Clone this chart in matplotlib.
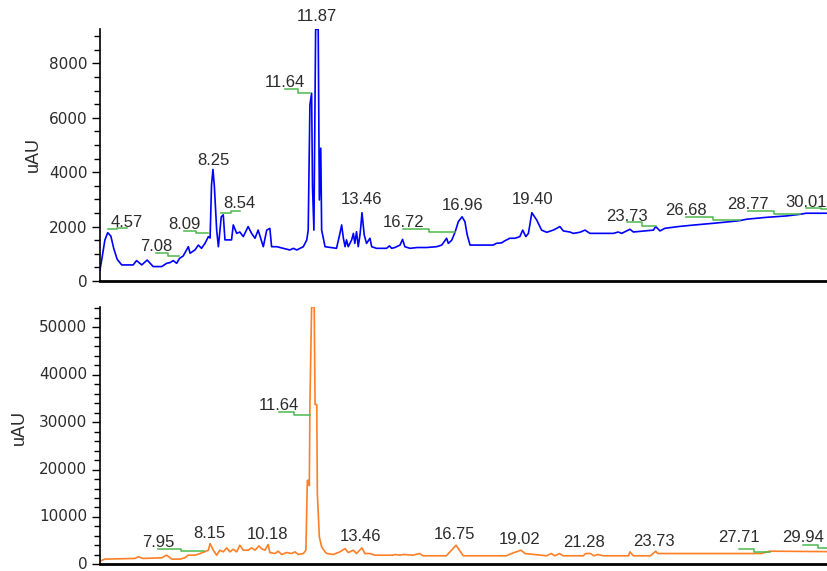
import numpy as np
import matplotlib
matplotlib.use("Agg")
import matplotlib.pyplot as plt
from matplotlib.ticker import MultipleLocator, NullLocator

# ---- detector trace 1 (blue) : retention time [min], signal [uAU]
t_blue = [4.30, 4.38, 4.47, 4.57, 4.68, 4.78, 4.90, 5.06, 5.46, 5.58, 5.76, 5.95,
          6.16, 6.46, 6.63, 6.75, 6.86, 6.98, 7.08, 7.21, 7.39, 7.45, 7.62, 7.74,
          7.85, 7.97, 8.09, 8.15, 8.20, 8.25, 8.30, 8.38, 8.44, 8.54, 8.61, 8.67,
          8.90, 8.96, 9.08, 9.19, 9.31, 9.48, 9.60, 9.72, 9.83, 10.01, 10.13, 10.24,
          10.30, 10.48, 10.71, 10.94, 11.06, 11.18, 11.41, 11.53, 11.58, 11.64, 11.70, 11.73,
          11.78, 11.84, 11.93, 11.97, 12.02, 12.05, 12.17, 12.57, 12.69, 12.75, 12.81, 12.87,
          12.92, 12.98, 13.10, 13.16, 13.21, 13.27, 13.33, 13.39, 13.42, 13.46, 13.54, 13.62,
          13.74, 13.80, 13.97, 14.32, 14.42, 14.50, 14.61, 14.79, 14.88, 14.96, 15.14, 15.39,
          15.72, 16.07, 16.25, 16.42, 16.48, 16.60, 16.72, 16.83, 16.96, 17.06, 17.14, 17.24,
          17.47, 18.05, 18.16, 18.34, 18.46, 18.63, 18.81, 18.98, 19.08, 19.19, 19.28, 19.40,
          19.57, 19.74, 19.92, 20.15, 20.27, 20.38, 20.50, 20.73, 20.85, 21.08, 21.26, 21.43,
          22.25, 22.42, 22.54, 22.83, 22.95, 23.65, 23.73, 23.88, 24.05, 24.52, 25.10, 25.74,
          26.33, 26.68, 26.91, 27.61, 28.30, 28.77, 28.99, 29.72]
v_blue = [404, 900, 1500, 1775, 1650, 1200, 800, 590, 590, 750, 590, 770,
          530, 530, 650, 675, 750, 650, 830, 920, 1260, 1020, 1140, 1320,
          1200, 1380, 1630, 1580, 3530, 4100, 3470, 1870, 1260, 2360, 2430, 1510,
          1510, 2060, 1750, 1800, 1630, 2000, 1750, 1570, 1870, 1260, 1870, 1935,
          1260, 1260, 1200, 1140, 1200, 1140, 1260, 1510, 1870, 6470, 6900, 3470,
          1870, 9250, 9250, 2980, 4880, 1870, 1260, 1200, 1750, 2060, 1570, 1260,
          1510, 1260, 1510, 1750, 1380, 1810, 1260, 1690, 2000, 2510, 1690, 1380,
          1570, 1260, 1200, 1200, 1290, 1200, 1230, 1320, 1530, 1260, 1200, 1230,
          1230, 1260, 1320, 1570, 1380, 1500, 1810, 2180, 2360, 2180, 1690, 1320,
          1320, 1320, 1385, 1400, 1480, 1570, 1570, 1630, 1870, 1630, 1750, 2510,
          2240, 1870, 1790, 1870, 1935, 2000, 1840, 1800, 1750, 1790, 1870, 1750,
          1750, 1800, 1750, 1900, 1800, 1870, 2000, 1840, 1935, 2000, 2060, 2120,
          2180, 2220, 2270, 2340, 2390, 2450, 2490, 2490]

# ---- detector trace 2 (orange)
t_orange = [4.30, 4.47, 5.52, 5.64, 5.81, 6.46, 6.63, 6.81, 7.10, 7.27, 7.38, 7.62,
            7.80, 7.95, 8.09, 8.15, 8.26, 8.38, 8.49, 8.61, 8.73, 8.84, 8.96, 9.08,
            9.19, 9.31, 9.48, 9.60, 9.72, 9.86, 9.95, 10.07, 10.18, 10.24, 10.42, 10.53,
            10.65, 10.83, 11.00, 11.12, 11.23, 11.41, 11.50, 11.55, 11.60, 11.62, 11.64, 11.70,
            11.79, 11.82, 11.88, 11.90, 11.97, 12.05, 12.17, 12.23, 12.46, 12.69, 12.87, 12.98,
            13.16, 13.27, 13.46, 13.56, 13.74, 13.91, 14.55, 14.61, 14.79, 14.90, 15.25, 15.47,
            15.60, 16.41, 16.75, 17.00, 18.51, 18.69, 19.02, 19.16, 19.91, 20.08, 20.20, 20.37,
            20.49, 21.20, 21.28, 21.45, 21.57, 21.70, 21.90, 22.78, 22.83, 22.95, 23.55, 23.73,
            23.80, 27.43, 27.71, 29.72]
v_orange = [700, 1120, 1260, 1600, 1260, 1400, 1950, 1120, 1120, 1400, 1950, 1950,
            2300, 2650, 3000, 4400, 3000, 1950, 3000, 2650, 3490, 2650, 3200, 2650,
            4050, 3000, 3000, 3490, 3000, 3910, 3300, 3000, 4190, 2510, 2300, 2800,
            2100, 2510, 2300, 2650, 2100, 2300, 3000, 17700, 17700, 16600, 33700, 54300,
            54300, 33700, 33700, 14900, 5800, 3700, 2660, 2300, 2100, 2660, 3350, 2500,
            3000, 2300, 3490, 2300, 2300, 1950, 1950, 2100, 1950, 2100, 1950, 2300,
            1820, 1820, 4050, 1820, 1820, 2300, 3000, 2300, 1820, 2300, 1820, 2300,
            1820, 1820, 2300, 2300, 1820, 2100, 1820, 1820, 2650, 1820, 1820, 2790,
            2300, 2300, 2790, 2700]

# ---- peak annotations: retention times printed above the trace
blue_peaks = ["4.57", "7.08", "8.09", "8.25", "8.54", "11.64", "11.87", "13.46",
              "16.72", "16.96", "19.40", "23.73", "26.68", "28.77", "30.01"]
orange_peaks = ["7.95", "8.15", "10.18", "11.64", "13.46", "16.75", "19.02",
                "21.28", "23.73", "27.71", "29.94"]

# label placement: (text centre time, text baseline signal, leader end at label, leader end at peak)
blue_layout = [(5.24, 1985, 1948, 1893), (6.26, 1100, 1029, 919), (7.24, 1911, 1837, 1753),
               (8.25, 4263, None, None), (9.19, 2680, 2583, 2500), (10.78, 7130, 7045, 6898),
               (11.89, 9555, None, None), (13.45, 2818, None, None), (14.90, 1996, 1900, 1812),
               (16.98, 2609, None, None), (19.41, 2830, None, None), (22.74, 2216, 2168, 2021),
               (24.79, 2425, 2363, 2240), (26.97, 2635, 2573, 2451), (28.99, 2731, 2671, 2635)]
orange_layout = [(6.34, 3700, 3290, 2870), (8.12, 5590, None, None), (10.17, 5310, None, None),
                 (10.55, 32540, 32160, 31530), (13.42, 4960, None, None), (16.71, 5310, None, None),
                 (18.96, 4400, None, None), (21.22, 3700, None, None), (23.67, 3910, None, None),
                 (26.64, 4750, 3350, 2720), (28.88, 4750, 4040, 3460)]

T_MIN, T_MAX = 4.30, 29.72
TEXT = "#2b2b2b"
LEADER = "#4cb84c"

fig = plt.figure(figsize=(8.27, 5.71), dpi=100)
ax_top = fig.add_axes([0.1209, 0.5079, 0.8791, 0.4413])
ax_bot = fig.add_axes([0.1209, 0.0115, 0.8791, 0.4514])


def style_axis(ax, ymax, major, minor):
    ax.set_xlim(T_MIN, T_MAX)
    ax.set_ylim(0, ymax)
    for side in ("top", "right"):
        ax.spines[side].set_visible(False)
    ax.spines["left"].set_linewidth(1.2)
    ax.spines["bottom"].set_linewidth(2.0)
    ax.xaxis.set_major_locator(NullLocator())
    ax.yaxis.set_major_locator(MultipleLocator(major))
    ax.yaxis.set_minor_locator(MultipleLocator(minor))
    ax.tick_params(axis="y", which="major", length=6, width=1.0, pad=3,
                   labelsize=11, labelcolor=TEXT)
    ax.tick_params(axis="y", which="minor", length=4, width=1.0)
    for tick in ax.yaxis.get_major_ticks():
        tick.label1.set_family("DejaVu Sans")
    ax.set_ylabel("uAU", fontsize=13, color=TEXT, family="Liberation Sans")


def annotate(ax, names, layout):
    for name, (tc, vb, v_lab, v_pk) in zip(names, layout):
        tp = float(name)
        ax.text(tc, vb, name, ha="center", va="baseline", fontsize=12,
                color=TEXT, family="Liberation Sans")
        if v_lab is not None:
            tm = 0.5 * (tc + tp)
            ax.plot([tc, tm, tm, tp], [v_lab, v_lab, v_pk, v_pk],
                    color=LEADER, lw=1.1, zorder=3)


style_axis(ax_top, 9260, 2000, 500)
style_axis(ax_bot, 54320, 10000, 2000)

# the lowest scale figure sits at the figure's bottom edge: centre on the full text box
for tick in ax_bot.yaxis.get_major_ticks():
    tick.label1.set_verticalalignment("center")

ax_top.plot(t_blue, v_blue, color="#0000ff", lw=1.2, zorder=2)
ax_bot.plot(t_orange, v_orange, color="#ff7f27", lw=1.2, zorder=2)

annotate(ax_top, blue_peaks, blue_layout)
annotate(ax_bot, orange_peaks, orange_layout)

ax_top.yaxis.set_label_coords(-0.080, 0.5)
ax_bot.yaxis.set_label_coords(-0.099, 0.53)

fig.savefig("out.png", dpi=100)
